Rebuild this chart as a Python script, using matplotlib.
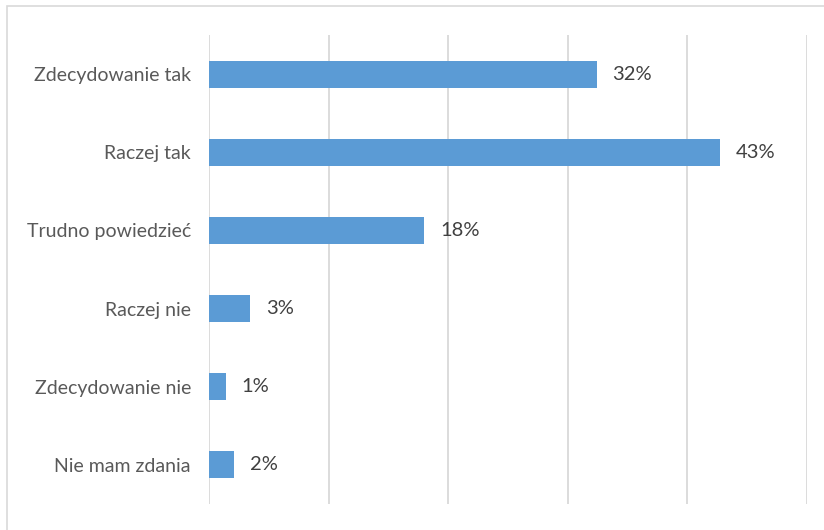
import matplotlib.pyplot as plt
from matplotlib.patches import Rectangle

# dane (dlugosci slupkow w %)
categories = ['Zdecydowanie tak', 'Raczej tak', 'Trudno powiedzieć',
              'Raczej nie', 'Zdecydowanie nie', 'Nie mam zdania']
values = [32.4, 42.7, 18.0, 3.4, 1.4, 2.1]
labels = ['32%', '43%', '18%', '3%', '1%', '2%']

W, H = 824, 530
fig = plt.figure(figsize=(W / 100, H / 100), dpi=100)
plt.rcParams['font.family'] = ['Lato', 'DejaVu Sans']

# ramka wykresu (widoczna tylko gora i lewa strona)
fig.patches.append(Rectangle((7 / W, -0.1), 1.2, 1 - 6 / H + 0.1, transform=fig.transFigure,
                             fill=False, edgecolor='#d9d9d9', linewidth=1.2))

ax = fig.add_axes([209 / W, 1 - 504 / H, (807 - 209) / W, (504 - 35) / H])
y = range(len(categories))
ax.barh(y, values, height=0.345, color='#5b9bd5', zorder=3)
ax.set_xlim(0, 50)
ax.set_ylim(len(categories) - 0.5, -0.5)
ax.set_xticks([0, 10, 20, 30, 40, 50])
ax.xaxis.grid(True, color='#d9d9d9', linewidth=1.3, zorder=0)
ax.tick_params(axis='x', length=0, labelbottom=False)
ax.tick_params(axis='y', length=0, pad=13)
ax.set_yticks(list(y))
ax.set_yticklabels(categories, fontsize=14, color='#595959')
for s in ax.spines.values():
    s.set_visible(False)

for i, (v, l) in enumerate(zip(values, labels)):
    ax.annotate(l, (v, i), xytext=(16, 0), textcoords='offset pixels',
                va='center', ha='left', fontsize=14.5, color='#404040')

fig.savefig('out.png', dpi=100)
